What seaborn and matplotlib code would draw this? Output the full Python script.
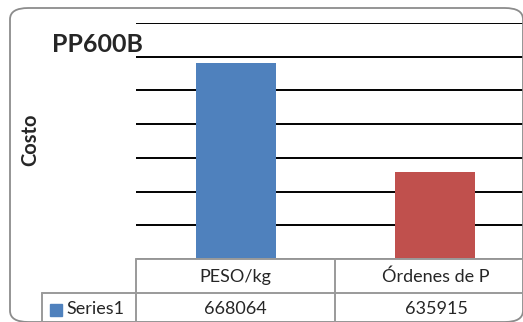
import matplotlib
matplotlib.use("Agg")
import matplotlib.pyplot as plt
import seaborn as sns
from matplotlib.lines import Line2D
from matplotlib.patches import FancyBboxPatch, Rectangle

categories = ["PESO/kg", "Órdenes de P"]
values = [668064, 635915]
series_name = "Series1"
colors = ["#4F81BD", "#C0504D"]
title = "PP600B"
ylabel = "Costo"

sns.set_theme(style="white")
plt.rcParams["font.family"] = ["Lato", "DejaVu Sans"]

W, H = 523, 322
fig = plt.figure(figsize=(W / 100, H / 100), dpi=100)

def fx(x):
    return x / W

def fy(y):
    return 1 - y / H

# rounded chart border
fig.add_artist(FancyBboxPatch((fx(10), fy(322)), fx(513), 314 / H,
                              boxstyle="round,pad=0,rounding_size=0.035",
                              transform=fig.transFigure, fill=False,
                              edgecolor="#8c8c8c", linewidth=1.3))

ax = fig.add_axes([fx(136), fy(259), fx(535) - fx(136), fy(23) - fy(259)])
sns.barplot(x=categories, y=values, hue=categories, palette=colors,
            width=0.4, legend=False, saturation=1, linewidth=0, ax=ax)
ax.set_ylim(610000, 680000)
ax.set_yticks(range(610000, 680001, 10000))
ax.yaxis.grid(True, color="black", linewidth=1.4)
ax.set_axisbelow(True)
ax.set_xticks([])
ax.set_yticklabels([])
ax.tick_params(left=False, bottom=False)
ax.set_xlabel("")
ax.set_ylabel("")
for s in ax.spines.values():
    s.set_visible(False)

fig.text(fx(52), fy(44), title, fontsize=18, fontweight="bold", va="center", ha="left")
fig.text(fx(30), fy(140), ylabel, fontsize=14.5, fontweight="bold", rotation=90,
         va="center", ha="center")

# data table
tc = "#9a9a9a"
def hline(y, x0, x1):
    fig.add_artist(Line2D([fx(x0), fx(x1)], [fy(y), fy(y)], color=tc, lw=1.4))

def vline(x, y0, y1):
    fig.add_artist(Line2D([fx(x), fx(x)], [fy(y0), fy(y1)], color=tc, lw=1.4))

hline(259, 136, 523)
hline(293, 42, 523)
vline(136, 259, 322)
vline(335, 259, 322)
vline(42, 293, 322)

col_centers = [235.5, 436]
for cx, cat, v in zip(col_centers, categories, values):
    fig.text(fx(cx), fy(277), cat, fontsize=13, ha="center", va="center")
    fig.text(fx(cx), fy(309), str(v), fontsize=13, ha="center", va="center")

fig.add_artist(Rectangle((fx(50), fy(316)), fx(12), 12 / H,
                         transform=fig.transFigure, color=colors[0]))
fig.text(fx(66), fy(309), series_name, fontsize=13, ha="left", va="center")

fig.savefig("out.png", dpi=100)
